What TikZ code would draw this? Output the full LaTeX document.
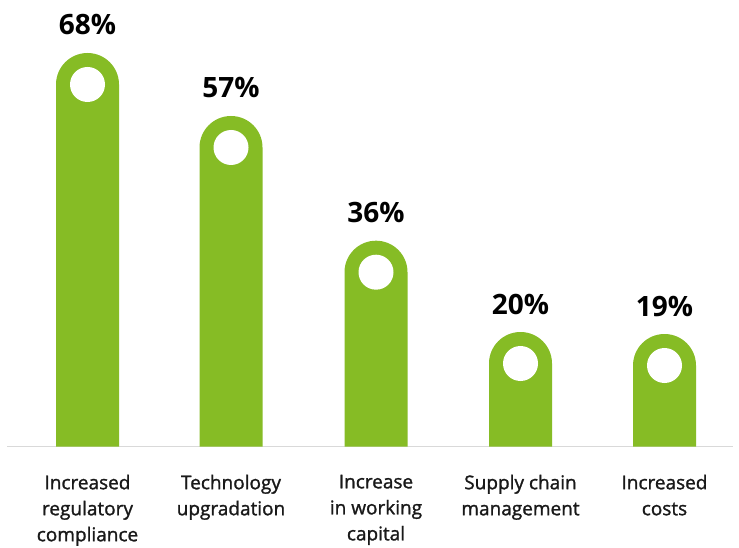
\documentclass[tikz,border=0pt]{standalone}
\usepackage{fontspec}
\setmainfont{Open Sans}
\newfontfamily\sbfont{Open Sans}[FakeBold=1.3]
\definecolor{bargreen}{HTML}{86BC25}
\definecolor{axisgrey}{HTML}{D9D9D9}
\begin{document}
\begin{tikzpicture}[x=1pt,y=1pt,
 bar/.style={fill=bargreen},
 hole/.style={fill=white},
 pct/.style={font=\fontsize{28}{30}\selectfont\bfseries, text=black, inner sep=0pt},
 cat/.style={font=\fontsize{19}{26}\selectfont\sbfont, align=center, anchor=north, inner sep=0pt, text=black!90}]
\useasboundingbox (0,0) rectangle (739,547);
\fill[white] (0,0) rectangle (739,547);
\draw[axisgrey, line width=1.2pt] (7,100.5) -- (733,100.5);
\foreach \x/\c/\p/\n in {87.5/462.5/68/1, 231/399.5/57/2, 376/274.8/36/3, 520.5/183.5/20/4, 664.5/181.5/19/5}{
  \fill[bar] (\x-31.5,100.5) -- (\x-31.5,\c) arc[start angle=180,end angle=0,radius=31.5] -- (\x+31.5,100.5) -- cycle;
  \fill[hole] (\x,\c) circle[radius=17.5];
  \node[pct] (p\n) at (\x,\c+31.5+28) {\p\%};
}
\node[cat] (c1) at (87.5,72.4) {Increased\\regulatory\\compliance};
\node[cat] (c2) at (231,72.4) {Technology\\upgradation};
\node[cat] (c3) at (376,72.4) {Increase\\in working\\capital};
\node[cat] (c4) at (520.5,72.4) {Supply chain\\management};
\node[cat] (c5) at (664.5,72.4) {Increased\\costs};
\end{tikzpicture}
\end{document}
